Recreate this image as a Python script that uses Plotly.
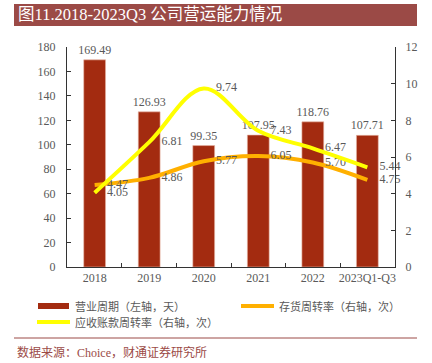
import plotly.graph_objects as go

categories = ["2018", "2019", "2020", "2021", "2022", "2023Q1-Q3"]
operating_cycle = [169.49, 126.93, 99.35, 107.95, 118.76, 107.71]
inventory_turnover = [4.47, 4.86, 5.77, 6.05, 5.70, 4.75]
receivable_turnover = [4.05, 6.81, 9.74, 7.43, 6.47, 5.44]

W, H = 432, 363
ML, MR, MT, MB = 67, 37, 47, 96
PW, PH = W - ML - MR, H - MT - MB

def px(x):
    return (x - ML) / PW

def py(y):
    return (H - MB - y) / PH

SERIF = "Liberation Serif, Times New Roman, Noto Sans CJK SC, serif"
CJK = "Liberation Serif, Noto Sans CJK SC, sans-serif"
GRAY = "#595959"
BAR = "#A32B10"
ORANGE = "#FFB000"
YELLOW = "#FFFF00"
BRAND = "#9B4A46"

fig = go.Figure()
fig.add_trace(go.Bar(
    x=categories, y=operating_cycle, width=0.4,
    marker=dict(color=BAR, line=dict(color="#E8B8A8", width=0.6)),
    text=[f"{v:.2f}" for v in operating_cycle], textposition="outside",
    constraintext="none",
    textfont=dict(family=SERIF, size=12, color=GRAY), cliponaxis=False,
    name="营业周期（左轴，天）", showlegend=False,
))
fig.add_trace(go.Scatter(
    x=categories, y=inventory_turnover, yaxis="y2", mode="lines+markers+text",
    line=dict(color=ORANGE, width=4, shape="spline", smoothing=1),
    marker=dict(size=18, opacity=0),
    text=[f"{v:.2f}" for v in inventory_turnover], textposition="middle right",
    textfont=dict(family=SERIF, size=12, color=GRAY), cliponaxis=False,
    name="存货周转率（右轴，次）", showlegend=False,
))
fig.add_trace(go.Scatter(
    x=categories, y=receivable_turnover, yaxis="y2", mode="lines+markers+text",
    line=dict(color=YELLOW, width=4, shape="spline", smoothing=1),
    marker=dict(size=18, opacity=0),
    text=[f"{v:.2f}" for v in receivable_turnover], textposition="middle right",
    textfont=dict(family=SERIF, size=12, color=GRAY), cliponaxis=False,
    name="应收账款周转率（右轴，次）", showlegend=False,
))

shapes = [
    dict(type="rect", xref="paper", yref="paper", x0=px(14), x1=px(417), y0=py(26), y1=py(4),
         fillcolor=BRAND, line=dict(width=0), layer="below"),
    dict(type="rect", xref="paper", yref="paper", x0=px(38), x1=px(69), y0=py(309), y1=py(303),
         fillcolor=BAR, line=dict(width=0)),
    dict(type="line", xref="paper", yref="paper", x0=px(241), x1=px(274), y0=py(306), y1=py(306),
         line=dict(color=ORANGE, width=4)),
    dict(type="line", xref="paper", yref="paper", x0=px(37), x1=px(70), y0=py(322), y1=py(322),
         line=dict(color=YELLOW, width=4)),
    dict(type="line", xref="paper", yref="paper", x0=px(14), x1=px(417), y0=py(338), y1=py(338),
         line=dict(color=BRAND, width=1)),
]

annotations = [
    dict(text="图11.2018-2023Q3 公司营运能力情况", x=px(16), y=py(15), xref="paper", yref="paper",
         xanchor="left", yanchor="middle", showarrow=False,
         font=dict(family=CJK, size=16.5, color="white")),
    dict(text="营业周期（左轴，天）", x=px(73), y=py(306), xref="paper", yref="paper",
         xanchor="left", yanchor="middle", showarrow=False,
         font=dict(family=CJK, size=11, color=GRAY)),
    dict(text="存货周转率（右轴，次）", x=px(277), y=py(306), xref="paper", yref="paper",
         xanchor="left", yanchor="middle", showarrow=False,
         font=dict(family=CJK, size=11, color=GRAY)),
    dict(text="应收账款周转率（右轴，次）", x=px(73), y=py(322), xref="paper", yref="paper",
         xanchor="left", yanchor="middle", showarrow=False,
         font=dict(family=CJK, size=11, color=GRAY)),
    dict(text="数据来源：Choice，财通证券研究所", x=px(15), y=py(352), xref="paper", yref="paper",
         xanchor="left", yanchor="middle", showarrow=False,
         font=dict(family=CJK, size=12, color=BRAND)),
]

fig.update_layout(
    width=W, height=H,
    margin=dict(l=ML, r=MR, t=MT, b=MB, autoexpand=False),
    paper_bgcolor="white", plot_bgcolor="white",
    showlegend=False,
    xaxis=dict(type="category", showline=True, linecolor="#333333", linewidth=1,
               ticks="inside", tickson="boundaries", ticklen=4, tickcolor="#333333",
               tickangle=0, showgrid=False, tickfont=dict(family=SERIF, size=12, color=GRAY)),
    yaxis=dict(range=[0, 180], dtick=20, showline=True, linecolor="#333333", linewidth=1,
               ticks="inside", ticklen=4, tickcolor="#333333", showgrid=False, zeroline=False,
               ticklabelstandoff=8,
               tickfont=dict(family=SERIF, size=12, color=GRAY)),
    yaxis2=dict(range=[0, 12], dtick=2, overlaying="y", side="right", showline=True,
                linecolor="#333333", linewidth=1, ticks="inside", ticklen=4, tickcolor="#333333",
                showgrid=False, zeroline=False, ticklabelstandoff=7,
                tickfont=dict(family=SERIF, size=12, color=GRAY)),
    shapes=shapes, annotations=annotations,
)

fig.write_html("out.html", config={"displayModeBar": False},
               post_script="document.body.style.margin='0';")
